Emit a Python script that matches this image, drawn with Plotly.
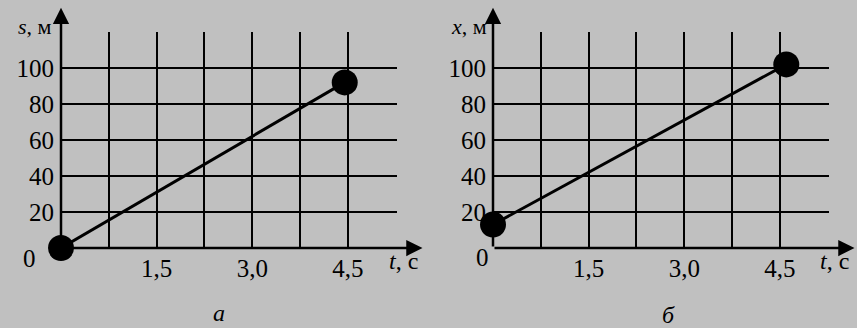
import plotly.graph_objects as go

W, H = 857, 328

# Data
t_a = [0.0, 4.45]
s_a = [0, 92]
t_b = [0.0, 4.6]
x_b = [13, 102]

x_major = [1.5, 3.0, 4.5]
x_major_text = ["1,5", "3,0", "4,5"]
x_minor = [0.75, 2.25, 3.75]
y_ticks = [20, 40, 60, 80, 100]
y_ticks_text = ["20", "40", "60", "80", "100"]

FONT = "Liberation Serif, Times New Roman, serif"
BG = "#c0c0c0"
TS = 25

fig = go.Figure()

fig.add_trace(go.Scatter(x=t_a, y=s_a, mode="lines+markers", xaxis="x", yaxis="y",
                         line=dict(color="black", width=3),
                         marker=dict(color="black", size=26), cliponaxis=False,
                         showlegend=False))
fig.add_trace(go.Scatter(x=t_b, y=x_b, mode="lines+markers", xaxis="x2", yaxis="y2",
                         line=dict(color="black", width=3),
                         marker=dict(color="black", size=26), cliponaxis=False,
                         showlegend=False))

def px(v):
    return v / W

def py(v):
    return 1 - v / H

XR = [0, 5.27]
YR = [0, 120]

xaxis_common = dict(range=XR, tickvals=x_major, ticktext=x_major_text,
                    showgrid=True, gridcolor="black", gridwidth=2,
                    minor=dict(tickvals=x_minor, showgrid=True, gridcolor="black", gridwidth=2),
                    zeroline=False, showline=False, ticks="", automargin=False,
                    tickfont=dict(family=FONT, size=TS, color="black"),
                    ticklabelstandoff=3, fixedrange=True)
yaxis_common = dict(range=YR, tickvals=y_ticks, ticktext=y_ticks_text,
                    showgrid=True, gridcolor="black", gridwidth=2,
                    zeroline=False, showline=False, ticks="", automargin=False,
                    tickfont=dict(family=FONT, size=TS, color="black"),
                    ticklabelstandoff=6, fixedrange=True,
                    domain=[py(248), py(32)])

fig.update_layout(
    width=W, height=H,
    margin=dict(l=0, r=0, t=0, b=0, autoexpand=False),
    paper_bgcolor=BG, plot_bgcolor=BG,
    font=dict(family=FONT, color="black"),
    xaxis=dict(domain=[px(61), px(397)], anchor="y", **xaxis_common),
    yaxis=dict(anchor="x", **yaxis_common),
    xaxis2=dict(domain=[px(493), px(829)], anchor="y2", **xaxis_common),
    yaxis2=dict(anchor="x2", **yaxis_common),
)

anns = []
for xr, yr in [("x", "y"), ("x2", "y2")]:
    # axis arrows
    anns.append(dict(x=5.67, y=0, ax=0, ay=0, xref=xr, yref=yr, axref=xr, ayref=yr,
                     showarrow=True, arrowhead=2, arrowsize=1.3, arrowwidth=2.5,
                     arrowcolor="black", text=""))
    anns.append(dict(x=0, y=133.5, ax=0, ay=0, xref=xr, yref=yr, axref=xr, ayref=yr,
                     showarrow=True, arrowhead=2, arrowsize=1.3, arrowwidth=2.5,
                     arrowcolor="black", text=""))

def label(xp, yp, text, size=TS):
    anns.append(dict(x=px(xp), y=py(yp), xref="paper", yref="paper", text=text,
                     showarrow=False, xanchor="center", yanchor="middle",
                     font=dict(family=FONT, size=size, color="black")))

# origin labels
label(30, 258, "0")
label(482, 257, "0")
# axis titles
label(35, 27, "<i>s</i>, м", 22)
label(469, 27, "<i>x</i>, м", 22)
label(403, 261, "<i>t</i>, с", 24)
label(834, 261, "<i>t</i>, с", 24)
# panel letters
label(219, 313, "<i>а</i>", 24)
label(668, 315, "<i>б</i>", 24)

fig.update_layout(annotations=anns)

fig.write_html(
    "out.html",
    config={"displayModeBar": False},
    post_script="document.body.style.margin='0';document.body.style.background='%s';" % BG,
)
